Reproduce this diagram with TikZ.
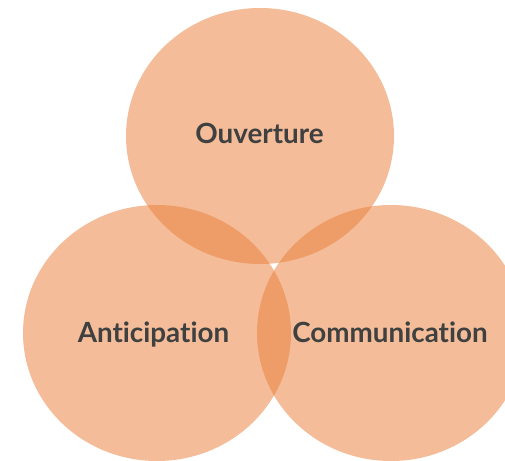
\documentclass[tikz,border=0pt]{standalone}
\usepackage{fontspec}
\setmainfont{Lato}[Ligatures=NoCommon]
\usepackage{tikz}
\usetikzlibrary{positioning}

\definecolor{petal}{RGB}{234,129,61}
\definecolor{ink}{RGB}{63,64,64}

\tikzset{
  petalfill/.style={fill=petal, fill opacity=0.53},
  label text/.style={text=ink, font=\fontsize{27.8}{32}\selectfont\bfseries, inner sep=0pt, anchor=base}
}

\begin{document}
\begin{tikzpicture}[x=1pt,y=-1pt]
    \useasboundingbox (0,0) rectangle (505,460);
    \clip (0,0) rectangle (505,460);
    \pgfmathsetmacro{\rx}{134}
    \pgfmathsetmacro{\ry}{128}
    % the three circles
    \coordinate (ctop) at (260,136);
    \coordinate (cleft) at (157,333);
    \coordinate (cright) at (391,333);
    \fill[petalfill] (ctop) ellipse[x radius=\rx, y radius=\ry];
    \fill[petalfill] (cleft) ellipse[x radius=\rx, y radius=\ry];
    \fill[petalfill] (cright) ellipse[x radius=\rx, y radius=\ry];
    % labels (placed on their baselines)
    \node[label text] (ouverture) at (259.5,143) {Ouverture};
    \node[label text] (anticipation) at (153.5,342) {Anticipation};
    \node[label text] (communication) at (390,342) {Communication};
\end{tikzpicture}
\end{document}
